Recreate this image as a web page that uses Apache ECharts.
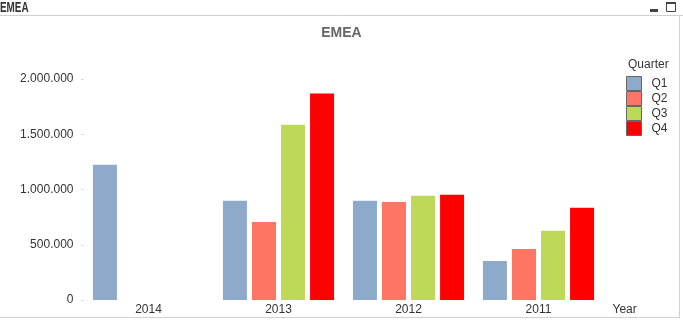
<!DOCTYPE html>
<html>
<head>
<meta charset="utf-8">
<style>
  html, body { margin: 0; padding: 0; background: #fff; }
  #chart { width: 683px; height: 322px; }
</style>
<script src="https://cdn.jsdelivr.net/npm/echarts@6/dist/echarts.min.js"></script>
</head>
<body>
<div id="chart"></div>
<script>
// Sales by year, split by quarter
const years = ['2014', '2013', '2012', '2011'];
const quarters = ['Q1', 'Q2', 'Q3', 'Q4'];
const q1Values = [1224000, 898000, 898000, 354000];
const q2Values = [null, 707000, 888000, 462000];
const q3Values = [null, 1587000, 943000, 626000];
const q4Values = [null, 1868000, 952000, 834000];
const yTicks = [0, 500000, 1000000, 1500000, 2000000];

const quarterColors = ['#8eaacb', '#ff7563', '#bed957', '#ff0000'];
const seriesValues = [q1Values, q2Values, q3Values, q4Values];

function fmtThousands(v) {
  return String(v).replace(/\B(?=(\d{3})+(?!\d))/g, '.');
}

const chart = echarts.init(document.getElementById('chart'), null, { renderer: 'canvas' });

chart.setOption({
  animation: false,
  textStyle: { fontFamily: 'Liberation Sans, Arial, sans-serif' },
  title: [
    {
      text: 'EMEA',
      left: 'center', top: 21,
      textStyle: { fontSize: 14, fontWeight: 'bold', color: '#666' }
    },
    {
      text: 'Quarter',
      left: 628, top: 58, padding: 0,
      textStyle: { fontSize: 12, fontWeight: 'normal', color: '#333', lineHeight: 14 }
    }
  ],
  legend: {
    orient: 'vertical',
    left: 626, top: 76, padding: 0,
    itemWidth: 15, itemHeight: 14, itemGap: 0,
    icon: 'rect',
    data: quarters,
    textStyle: { fontSize: 12, color: '#333', lineHeight: 14, padding: [0, 0, 0, 5] },
    itemStyle: { borderColor: '#666', borderWidth: 1 }
  },
  grid: { left: 83.5, width: 520, top: 79, height: 221 },
  xAxis: {
    type: 'category',
    data: years,
    name: 'Year',
    nameLocation: 'end',
    nameGap: 9,
    nameTextStyle: { fontSize: 12, color: '#333', verticalAlign: 'top', padding: [4, 0, 0, 0] },
    axisLine: { show: false },
    axisTick: { show: false },
    axisLabel: { fontSize: 12, color: '#333', margin: 4 }
  },
  yAxis: {
    type: 'value',
    min: yTicks[0],
    max: yTicks[yTicks.length - 1],
    interval: yTicks[1] - yTicks[0],
    axisLine: { show: false },
    axisTick: { show: true, length: 2, lineStyle: { color: '#ccc' } },
    splitLine: { show: false },
    axisLabel: { fontSize: 12, color: '#333', margin: 10, formatter: fmtThousands }
  },
  series: quarters.map((q, i) => ({
    name: q,
    type: 'bar',
    data: seriesValues[i],
    barWidth: 24,
    barGap: '21%',
    itemStyle: { color: quarterColors[i] }
  })),
  graphic: [
    // window caption, narrow bold
    {
      type: 'text', x: 0, y: 0, scaleX: 0.66,
      style: { text: 'EMEA', font: 'bold 15px Liberation Sans, Arial, sans-serif', fill: '#333', textVerticalAlign: 'top' }
    },
    { type: 'line', shape: { x1: 0, y1: 15.5, x2: 683, y2: 15.5 }, style: { stroke: '#d0d0d0', lineWidth: 1 } },
    { type: 'line', shape: { x1: 679.5, y1: 15.5, x2: 679.5, y2: 317.5 }, style: { stroke: '#d0d0d0', lineWidth: 1 } },
    { type: 'line', shape: { x1: 0, y1: 317.5, x2: 680, y2: 317.5 }, style: { stroke: '#d0d0d0', lineWidth: 1 } },
    { type: 'rect', shape: { x: 650, y: 9, width: 8, height: 3 }, style: { fill: '#444' } },
    { type: 'rect', shape: { x: 666.5, y: 2.5, width: 9, height: 9 }, style: { fill: '#fff', stroke: '#444', lineWidth: 1 } },
    { type: 'rect', shape: { x: 666, y: 2, width: 10, height: 2 }, style: { fill: '#444' } }
  ]
});
</script>
</body>
</html>
